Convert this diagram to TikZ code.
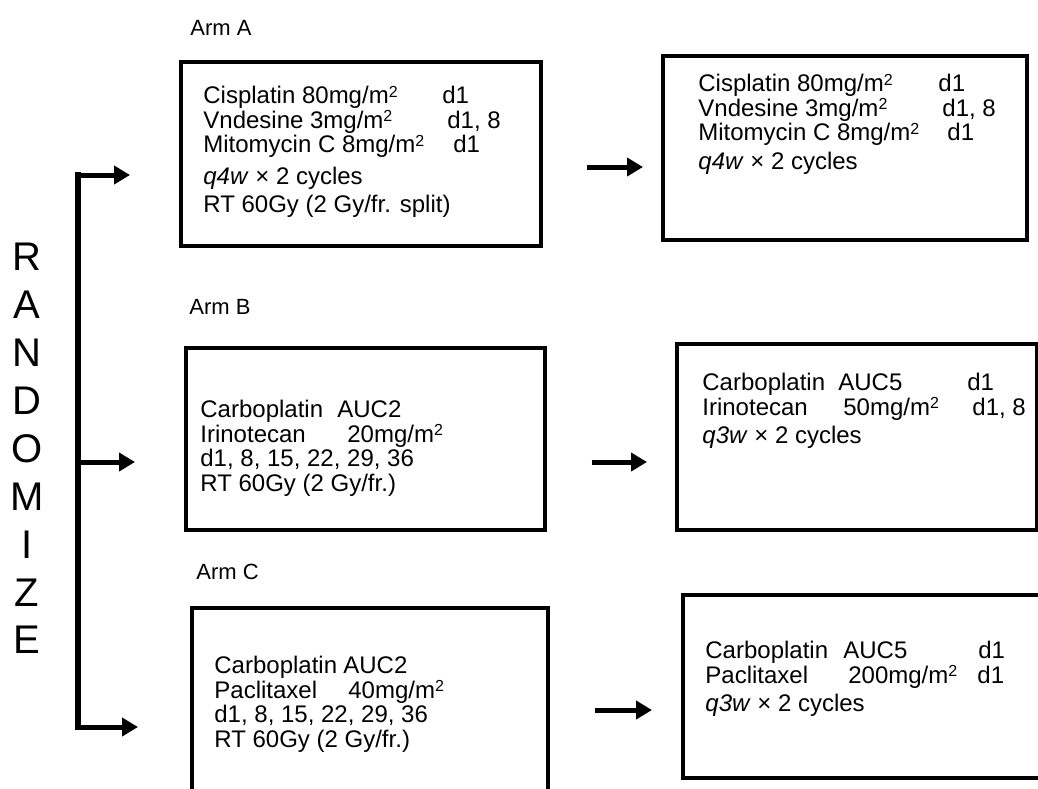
\documentclass[tikz,border=0pt]{standalone}
\usepackage{fontspec}
\setmainfont{Liberation Sans}
\usetikzlibrary{arrows.meta}
\newcommand{\tb}[2]{\makebox[#1][l]{#2}}
\newcommand{\msq}{mg/m\raisebox{.26em}{\fontsize{8}{8}\selectfont 2}}
\tikzset{
  armbox/.style={draw, line width=2pt, inner sep=0pt, outer sep=0pt},
  regimen/.style={anchor=north west, inner sep=0pt, align=left, font={\fontsize{12}{12.2}\selectfont}},
  armlabel/.style={anchor=west, inner sep=0pt, font={\fontsize{11}{13}\selectfont}},
  rlet/.style={inner sep=0pt, font={\fontsize{20}{24}\selectfont}},
  spine/.style={line width=3.2pt, line cap=rect},
  flow/.style={line width=2.5pt, -{Triangle[length=8pt, width=9pt]}}}

\begin{document}
\begin{tikzpicture}[x=0.5pt, y=-0.5pt]
\useasboundingbox (0,0) rectangle (1038,788);
\clip (0,0) rectangle (1038,788);
% boxes
\node[armbox, minimum width=180pt, minimum height=92pt] (a1) at (361,154) {};
\node[armbox, minimum width=182pt, minimum height=92pt] (a2) at (845,148) {};
\node[armbox, minimum width=179.5pt, minimum height=91pt] (b1) at (365.5,439) {};
\node[armbox, minimum width=180pt, minimum height=93pt] (b2) at (857,437) {};
\node[armbox, minimum width=178pt, minimum height=96pt] (c1) at (370,704) {};
\node[armbox, minimum width=181pt, minimum height=91.5pt] (c2) at (864,686.5) {};
% texts
\node[regimen] (a1t) at ([shift={(22,24)}]a1.north west) {\tb{119.5pt}{Cisplatin 80\msq}d1\\
  \tb{122pt}{Vndesine 3\msq}d1, 8\\
  \tb{125pt}{Mitomycin C 8\msq}d1\\[3.5pt]
  \textit{q4w} × 2 cycles\\[2pt]
  RT 60Gy (2 Gy/fr. split)};
\node[regimen] (a2t) at ([shift={(35,18)}]a2.north west) {\tb{120pt}{Cisplatin 80\msq}d1\\
  \tb{122pt}{Vndesine 3\msq}d1, 8\\
  \tb{124.5pt}{Mitomycin C 8\msq}d1\\[2pt]
  \textit{q4w} × 2 cycles};
\node[regimen] (b1t) at ([shift={(14,52)}]b1.north west) {\tb{68.5pt}{Carboplatin}AUC2\\
  \tb{73.5pt}{Irinotecan}20\msq\\
  d1, 8, 15, 22, 29, 36\\
  RT 60Gy (2 Gy/fr.)};
\node[regimen] (b2t) at ([shift={(25,29)}]b2.north west) {\tb{68pt}{Carboplatin}\tb{64.5pt}{AUC5}d1\\
  \tb{70.5pt}{Irinotecan}\tb{64.5pt}{50\msq}d1, 8\\[2pt]
  \textit{q3w} × 2 cycles};
\node[regimen] (c1t) at ([shift={(22,48)}]c1.north west) {\tb{64.5pt}{Carboplatin}AUC2\\
  \tb{67pt}{Paclitaxel}40\msq\\
  d1, 8, 15, 22, 29, 36\\
  RT 60Gy (2 Gy/fr.)};
\node[regimen] (c2t) at ([shift={(22,46)}]c2.north west) {\tb{69pt}{Carboplatin}\tb{67.5pt}{AUC5}d1\\
  \tb{71.5pt}{Paclitaxel}\tb{64.5pt}{200\msq}d1\\[2pt]
  \textit{q3w} × 2 cycles};
% arm labels
\node[armlabel] (la) at (190,28) {Arm A};
\node[armlabel] (lb) at (189,307) {Arm B};
\node[armlabel] (lc) at (196,572) {Arm C};
% randomize
\foreach \l [count=\i from 0] in {R,A,N,D,O,M,I,Z,E}
  \node[rlet] (rand\i) at (27,{257+47.9*\i}) {\l};
\coordinate (rtop) at (78,175);
\coordinate (rmid) at (78,462);
\coordinate (rbot) at (78,727);
\draw[spine] (rtop) -- (rbot);
\draw[flow, shorten >=25.5pt] (rtop) -- (a1.west |- rtop);
\draw[flow, shorten >=25.5pt] (rmid) -- (b1.west |- rmid);
\draw[flow, shorten >=27pt] (rbot) -- (c1.west |- rbot);
% second cycle
\coordinate (ya) at (0,167);
\coordinate (yb) at (0,462);
\coordinate (yc) at (0,710);
\draw[flow, shorten <=23pt, shorten >=10pt] (a1.east |- ya) -- (a2.west |- ya);
\draw[flow, shorten <=23.25pt, shorten >=15pt] (b1.east |- yb) -- (b2.west |- yb);
\draw[flow, shorten <=23.5pt, shorten >=15.5pt] (c1.east |- yc) -- (c2.west |- yc);
\end{tikzpicture}
\end{document}
